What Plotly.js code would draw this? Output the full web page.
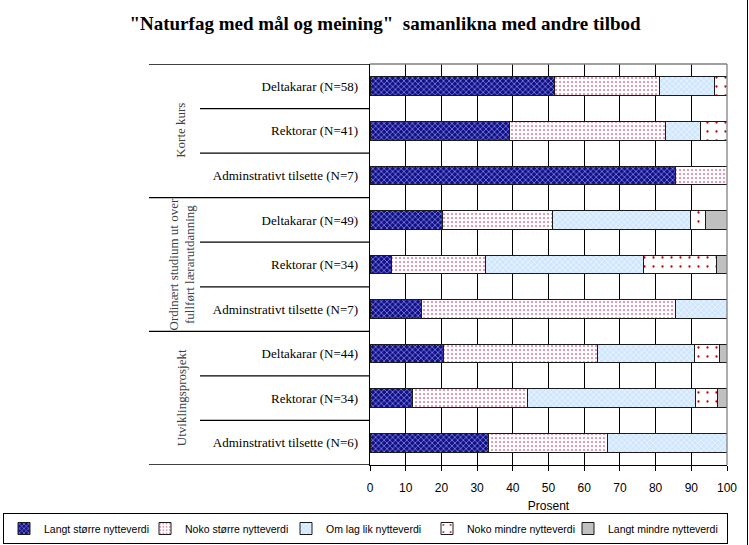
<!DOCTYPE html>
<html>
<head>
<meta charset="utf-8">
<script src="https://cdn.plot.ly/plotly-3.0.1.min.js"></script>
<style>html,body{margin:0;padding:0;background:#fff;}#chart{width:749px;height:545px;}</style>
</head>
<body>
<div id="chart"></div>
<script>
// Row labels, top to bottom
const rowLabels = [
  "Deltakarar (N=58)", "Rektorar (N=41)", "Adminstrativt tilsette (N=7)",
  "Deltakarar (N=49)", "Rektorar (N=34)", "Adminstrativt tilsette (N=7)",
  "Deltakarar (N=44)", "Rektorar (N=34)", "Adminstrativt tilsette (N=6)"
];
const rowIndex = [0, 1, 2, 3, 4, 5, 6, 7, 8];
const groupLabels = ["Korte kurs", "Ordinært studium ut over<br>fullført lærarutdanning", "Utviklingsprosjekt"];
const groupCenters = [1, 4, 7];
const seriesNames = ["Langt større nytteverdi", "Noko større nytteverdi", "Om lag lik nytteverdi", "Noko mindre nytteverdi", "Langt mindre nytteverdi"];

// Percent values per series (rows top to bottom)
const langtStorre = [51.7, 39.0, 85.7, 20.4, 5.9, 14.3, 20.5, 11.8, 33.3];
const nokoStorre  = [29.3, 43.9, 14.3, 30.6, 26.5, 71.4, 43.2, 32.4, 33.3];
const omLagLik    = [15.5, 9.8, 0, 38.8, 44.1, 14.3, 27.3, 47.1, 33.4];
const nokoMindre  = [3.5, 7.3, 0, 4.1, 20.6, 0, 6.8, 5.9, 0];
const langtMindre = [0, 0, 0, 6.1, 2.9, 0, 2.2, 2.8, 0];

const xTicks = [0, 10, 20, 30, 40, 50, 60, 70, 80, 90, 100];

const seriesValues = [langtStorre, nokoStorre, omLagLik, nokoMindre, langtMindre];
const styles = [
  {color: "#10108a", pattern: {shape: "x", bgcolor: "#10108a", fgcolor: "#a0a0e8", size: 4, solidity: 0.3, fillmode: "replace"}},
  {color: "#ffffff", pattern: {shape: ".", bgcolor: "#ffffff", fgcolor: "#e0789a", size: 4, solidity: 0.2, fillmode: "replace"}},
  {color: "#cfe6ff", pattern: {shape: "x", bgcolor: "#cfe6ff", fgcolor: "#ffffff", size: 4, solidity: 0.25, fillmode: "replace"}},
  {color: "#ffffff", pattern: {shape: ".", bgcolor: "#ffffff", fgcolor: "#c00000", size: 9, solidity: 0.05, fillmode: "replace"}},
  {color: "#c0c0c0", pattern: {shape: ""}}
];
const legendWidths = [96, 96, 96, 96, 114];

const traces = seriesValues.map((vals, i) => ({
  type: "bar",
  orientation: "h",
  name: seriesNames[i],
  x: vals,
  y: rowIndex,
  width: 0.42,
  legendwidth: legendWidths[i],
  marker: {
    color: styles[i].color,
    pattern: styles[i].pattern,
    line: {color: "#1a1a1a", width: 1}
  },
  hoverinfo: "none"
}));

const L = 370, R = 727, W = 749;
const px = v => (v - L) / (R - L);

const shapes = [];
const boundaries = [-0.5, 0.5, 1.5, 2.5, 3.5, 4.5, 5.5, 6.5, 7.5, 8.5];
boundaries.forEach(b => {
  const major = [-0.5, 2.5, 5.5, 8.5].includes(b);
  shapes.push({type: "line", xref: "paper", yref: "y", x0: major ? px(149) : px(200), x1: 0, y0: b, y1: b,
               line: {color: "#000000", width: 1.3}});
});
shapes.push({type: "line", xref: "paper", yref: "paper", x0: 0, x1: 1, y0: 1, y1: 1, line: {color: "#808080", width: 1.3}});
shapes.push({type: "line", xref: "paper", yref: "paper", x0: 1, x1: 1, y0: 0, y1: 1, line: {color: "#808080", width: 1.3}});
shapes.push({type: "line", xref: "paper", yref: "paper", x0: px(747.5), x1: px(747.5), y0: -2, y1: 2, line: {color: "#000000", width: 1}});

const annotations = groupLabels.map((g, i) => ({
  text: g, xref: "paper", yref: "y", x: px(181), y: groupCenters[i],
  textangle: -90, showarrow: false, xanchor: "center", yanchor: "middle",
  font: {family: "Liberation Serif, Times New Roman, serif", size: 13, color: "#404040"},
  align: "center"
}));

const layout = {
  width: 749, height: 545,
  margin: {l: L, r: W - R, t: 64, b: 80, autoexpand: false},
  paper_bgcolor: "#ffffff", plot_bgcolor: "#ffffff",
  barmode: "stack",
  hovermode: false,
  title: {
    text: "<b>\"Naturfag med mål og meining\"  samanlikna med andre tilbod</b>",
    font: {family: "Liberation Serif, Times New Roman, serif", size: 19, color: "#000"},
    x: 385 / 749, xanchor: "center", y: 1 - 23 / 545, yanchor: "middle", xref: "container", yref: "container"
  },
  xaxis: {
    range: [0, 100], tickvals: xTicks, ticktext: xTicks.map(String),
    ticks: "outside", ticklen: 5, tickcolor: "#000", tickwidth: 1,
    showgrid: true, gridcolor: "#000000", gridwidth: 1,
    showline: true, linecolor: "#000", linewidth: 1.3,
    zeroline: false,
    ticklabelstandoff: 6,
    tickfont: {family: "Liberation Sans, Arial, sans-serif", size: 12, color: "#000"},
    title: {text: "Prosent", standoff: 8, font: {family: "Liberation Sans, Arial, sans-serif", size: 12, color: "#000"}},
    fixedrange: true
  },
  yaxis: {
    range: [8.5, -0.5], tickvals: rowIndex, ticktext: rowLabels,
    ticks: "", showgrid: false, zeroline: false,
    showline: true, linecolor: "#000", linewidth: 1.3,
    ticklabelstandoff: 8,
    tickfont: {family: "Liberation Serif, Times New Roman, serif", size: 13, color: "#000"},
    fixedrange: true
  },
  legend: {
    orientation: "h",
    x: px(3), xanchor: "left", xref: "paper",
    y: -(513 - 465) / 401, yanchor: "top",
    bordercolor: "#000", borderwidth: 1,
    font: {family: "Liberation Sans, Arial, sans-serif", size: 10.5, color: "#000"},
    itemwidth: 30,
    traceorder: "normal"
  },
  shapes: shapes,
  annotations: annotations,
  showlegend: true
};

Plotly.newPlot("chart", traces, layout, {displayModeBar: false, staticPlot: true});
</script>
</body>
</html>
